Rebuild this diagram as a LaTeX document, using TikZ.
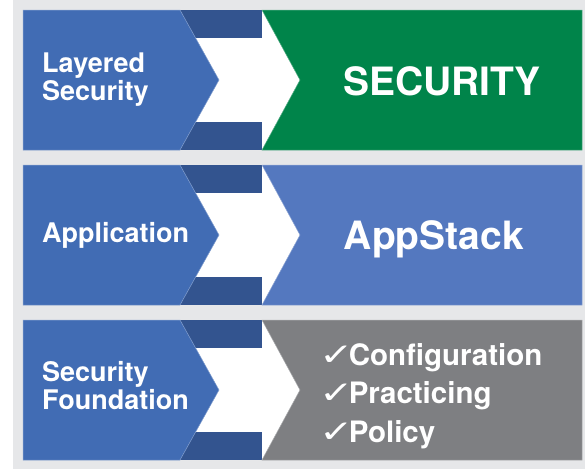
\documentclass[tikz,border=0pt]{standalone}
\usepackage{fontspec}
\setmainfont{TeX Gyre Heros}
\newfontfamily\checkfont{DejaVu Sans}
\usepackage{graphicx}
\usepackage{tikz}
\definecolor{panelgray}{HTML}{E6E7E9}
\definecolor{tabblue}{HTML}{416CB4}
\definecolor{stripblue}{HTML}{33548F}
\definecolor{securegreen}{HTML}{00844A}
\definecolor{stackblue}{HTML}{5478BF}
\definecolor{basegray}{HTML}{7E7F82}
\newcommand{\tick}{{\checkfont\mdseries\scalebox{1.4}[1.05]{✓}}\kern-5pt}
\tikzset{
  tab/.style={fill=tabblue, draw=tabblue!65!white, line width=0.5pt},
  strip/.style={fill=stripblue},
  chevron/.style={fill=white},
  band/.style={fill=#1, draw=#1!65!white, line width=0.5pt},
  tablabel/.style={text=white, anchor=west, align=left, inner sep=0pt,
    font=\bfseries\fontsize{27}{28}\selectfont},
  bandtitle/.style={text=white, inner sep=0pt,
    font=\bfseries\fontsize{39}{40}\selectfont},
  checklist/.style={text=white, anchor=west, align=left, inner sep=0pt,
    font=\bfseries\fontsize{29.5}{38.5}\selectfont}
}

\begin{document}
\begin{tikzpicture}[x=1pt, y=-1pt]
  \useasboundingbox (0,0) rectangle (587,469);
  \fill[panelgray] (13,0) rectangle (585,469);

  % three layers: arrow tab on the left, band on the right
  \foreach \t/\c in {10/securegreen, 165/stackblue, 320/basegray} {
    \fill[strip] (180,\t) rectangle (262,\t+140);
    \fill[chevron] (180,\t+28) rectangle (262,\t+112);
    \fill[chevron] (262,\t) -- (300,\t+70) -- (262,\t+140) -- cycle;
    \draw[tab] (23,\t) -- (180,\t) -- (219,\t+70) -- (180,\t+140)
      -- (23,\t+140) -- cycle;
    \draw[band=\c] (262,\t) -- (582,\t) -- (582,\t+140) -- (262,\t+140)
      -- (300,\t+70) -- cycle;
  }

  \node[tablabel] (layered) at (42, 80) {Layered\\Security};
  \node[bandtitle] (security) at (442, 81) {SECURITY};

  \node[tablabel] (application) at (42, 235) {Application};
  \node[bandtitle] (appstack) at (434, 239) {AppStack};

  \node[tablabel] (foundation) at (42, 386) {Security\\Foundation};
  \node[checklist] (checks) at (319, 396)
    {\tick Configuration\\\tick Practicing\\\tick Policy};
\end{tikzpicture}
\end{document}
